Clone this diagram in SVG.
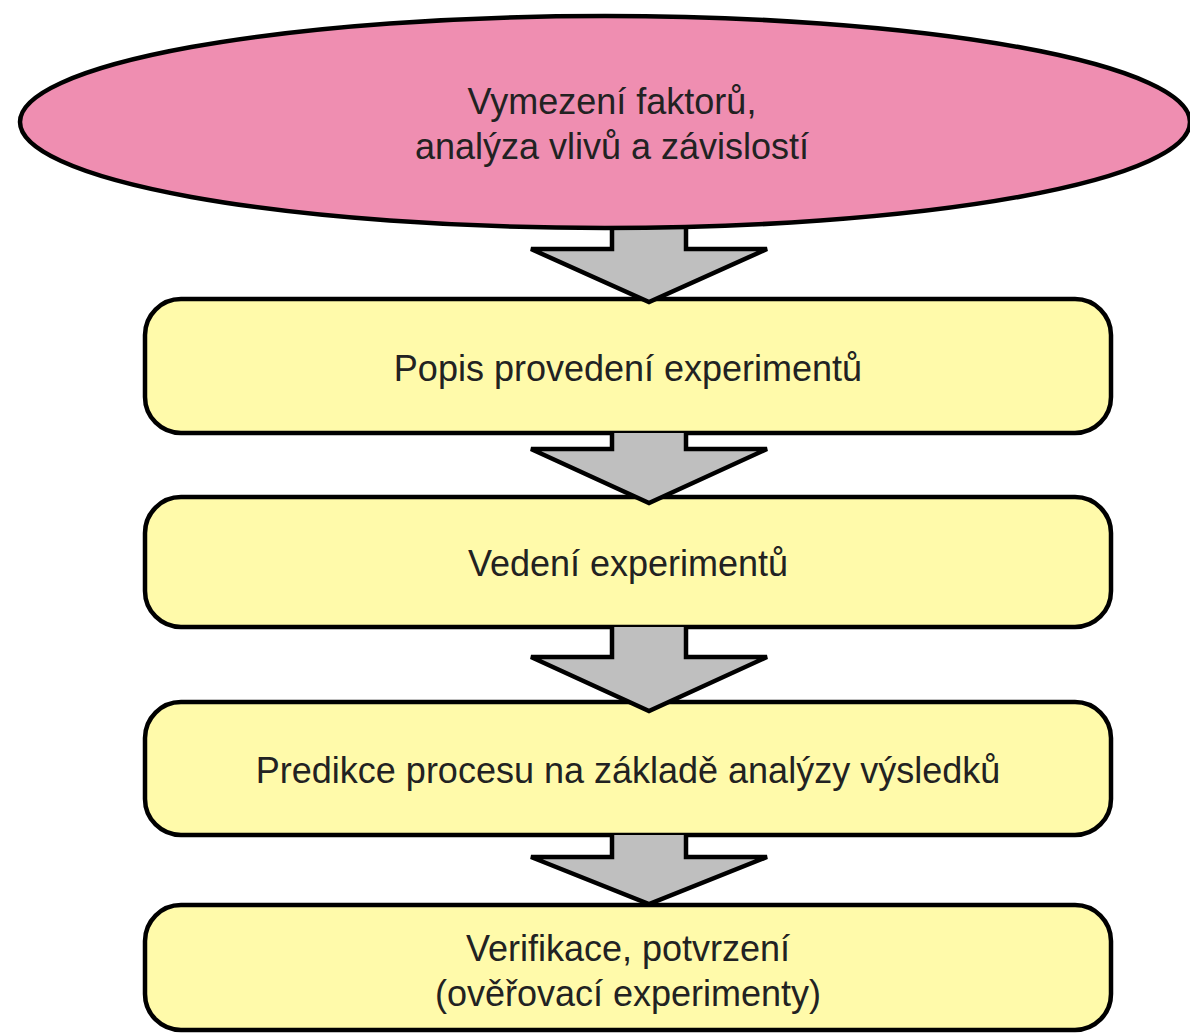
<svg xmlns="http://www.w3.org/2000/svg" width="1190" height="1033" viewBox="0 0 1190 1033">
<style>
.box{fill:#FFFAAA;stroke:#000;stroke-width:4.5}
.ell{fill:#EF8EB1;stroke:#000;stroke-width:4.5}
.arr{fill:#BFBFBF;stroke:#000;stroke-width:4.5;stroke-linejoin:miter}
.t{font-family:"Liberation Sans",Arial,sans-serif;font-size:36px;fill:#222;text-anchor:middle}
</style>
<rect width="1190" height="1033" fill="#fff"/>
<g id="box1"><rect class="box" x="145" y="299" width="966" height="134" rx="36"/><text class="t" x="628" y="381">Popis provedení experimentů</text></g>
<g id="box2"><rect class="box" x="145" y="497" width="966" height="130" rx="36"/><text class="t" x="628" y="576">Vedení experimentů</text></g>
<g id="box3"><rect class="box" x="145" y="702" width="966" height="133" rx="36"/><text class="t" x="628" y="783">Predikce procesu na základě analýzy výsledků</text></g>
<g id="box4"><rect class="box" x="145" y="905" width="966" height="125" rx="36"/><text class="t" x="628" y="961">Verifikace, potvrzení</text><text class="t" x="628" y="1006">(ověřovací experimenty)</text></g>
<g id="connectors">
<path class="arr" d="M612,224 V249 H531 L649,302 L767,249 H686 V224"/>
<path class="arr" d="M612,433 V449 H531 L649,503 L767,449 H686 V433"/>
<path class="arr" d="M612,627 V657 H531 L649,711 L767,657 H686 V627"/>
<path class="arr" d="M612,835 V857 H531 L649,904 L767,857 H686 V835"/>
</g>
<g id="start"><ellipse class="ell" cx="605" cy="122" rx="585" ry="106"/><text class="t" x="612" y="114">Vymezení faktorů,</text><text class="t" x="612" y="159">analýza vlivů a závislostí</text></g>
</svg>
